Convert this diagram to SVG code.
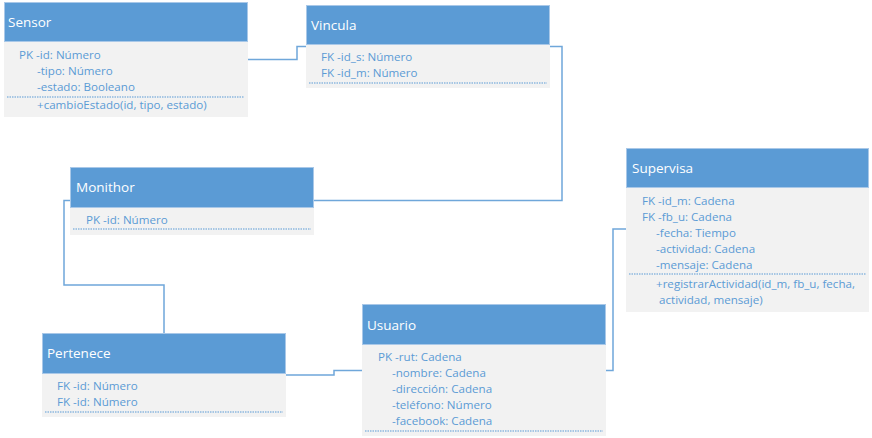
<svg xmlns="http://www.w3.org/2000/svg" width="872" height="438" viewBox="0 0 872 438">
<style>
.hd{fill:#5B9BD5;stroke:#A9C8E8;stroke-width:1}
.bd{fill:#F2F2F2}
.ht{font-family:"Open Sans","Noto Sans",sans-serif;font-size:13.5px;fill:#FFFFFF}
.t{font-family:"Open Sans","Noto Sans",sans-serif;font-size:11.6px;fill:#5B9BD5}
.dot{stroke:#5B9BD5;stroke-width:1;stroke-dasharray:1.5 1;fill:none}
.cn{fill:none;stroke:#6FA7DA;stroke-width:1.5}
</style>
<rect width="872" height="438" fill="#FFFFFF"/>
<g id="connectors">
<polyline class="cn" points="248,59.5 297,59.5 297,46.5 306,46.5"/>
<polyline class="cn" points="550,46.5 562,46.5 562,200.5 314,200.5"/>
<polyline class="cn" points="70,200.5 64,200.5 64,285 164,285 164,333"/>
<polyline class="cn" points="286,375 334,375 334,370.5 362,370.5"/>
<polyline class="cn" points="606,370.5 613,370.5 613,229 626,229"/>
</g>
<g id="sensor">
<rect class="bd" x="4" y="42" width="244" height="75"/>
<rect class="hd" x="4.5" y="2.5" width="243" height="39"/>
<text class="ht" x="8" y="27">Sensor</text>
<text class="t" x="19" y="59">PK -id: Número</text>
<text class="t" x="37" y="75">-tipo: Número</text>
<text class="t" x="37" y="91">-estado: Booleano</text>
<line class="dot" x1="7" y1="97" x2="244" y2="97"/>
<text class="t" x="37" y="109">+cambioEstado(id, tipo, estado)</text>
</g>
<g id="vincula">
<rect class="bd" x="306" y="45" width="244" height="43"/>
<rect class="hd" x="306.5" y="5.5" width="243" height="39"/>
<text class="ht" x="311" y="30">Vincula</text>
<text class="t" x="321" y="61">FK -id_s: Número</text>
<text class="t" x="321" y="77">FK -id_m: Número</text>
<line class="dot" x1="309" y1="83" x2="547" y2="83"/>
</g>
<g id="monithor">
<rect class="bd" x="70" y="208" width="244" height="27"/>
<rect class="hd" x="70.5" y="167.5" width="243" height="40"/>
<text class="ht" x="76" y="192">Monithor</text>
<text class="t" x="86" y="224">PK -id: Número</text>
<line class="dot" x1="73" y1="229" x2="311" y2="229"/>
</g>
<g id="pertenece">
<rect class="bd" x="42" y="374" width="244" height="43"/>
<rect class="hd" x="42.5" y="333.5" width="243" height="40"/>
<text class="ht" x="47" y="358">Pertenece</text>
<text class="t" x="57" y="390">FK -id: Número</text>
<text class="t" x="57" y="406">FK -id: Número</text>
<line class="dot" x1="45" y1="412" x2="283" y2="412"/>
</g>
<g id="usuario">
<rect class="bd" x="362" y="345" width="244" height="91"/>
<rect class="hd" x="362.5" y="304.5" width="243" height="40"/>
<text class="ht" x="367" y="330">Usuario</text>
<text class="t" x="378" y="361">PK -rut: Cadena</text>
<text class="t" x="392" y="377">-nombre: Cadena</text>
<text class="t" x="392" y="393">-dirección: Cadena</text>
<text class="t" x="392" y="409">-teléfono: Número</text>
<text class="t" x="392" y="425">-facebook: Cadena</text>
<line class="dot" x1="365" y1="431" x2="603" y2="431"/>
</g>
<g id="supervisa">
<rect class="bd" x="626" y="188" width="243" height="124"/>
<rect class="hd" x="626.5" y="148.5" width="242" height="39"/>
<text class="ht" x="632" y="173">Supervisa</text>
<text class="t" x="642" y="205">FK -id_m: Cadena</text>
<text class="t" x="642" y="221">FK -fb_u: Cadena</text>
<text class="t" x="656" y="237">-fecha: Tiempo</text>
<text class="t" x="656" y="253">-actividad: Cadena</text>
<text class="t" x="656" y="269">-mensaje: Cadena</text>
<line class="dot" x1="629" y1="274" x2="866" y2="274"/>
<text class="t" x="656" y="288">+registrarActividad(id_m, fb_u, fecha,</text>
<text class="t" x="659" y="304">actividad, mensaje)</text>
</g>
</svg>
